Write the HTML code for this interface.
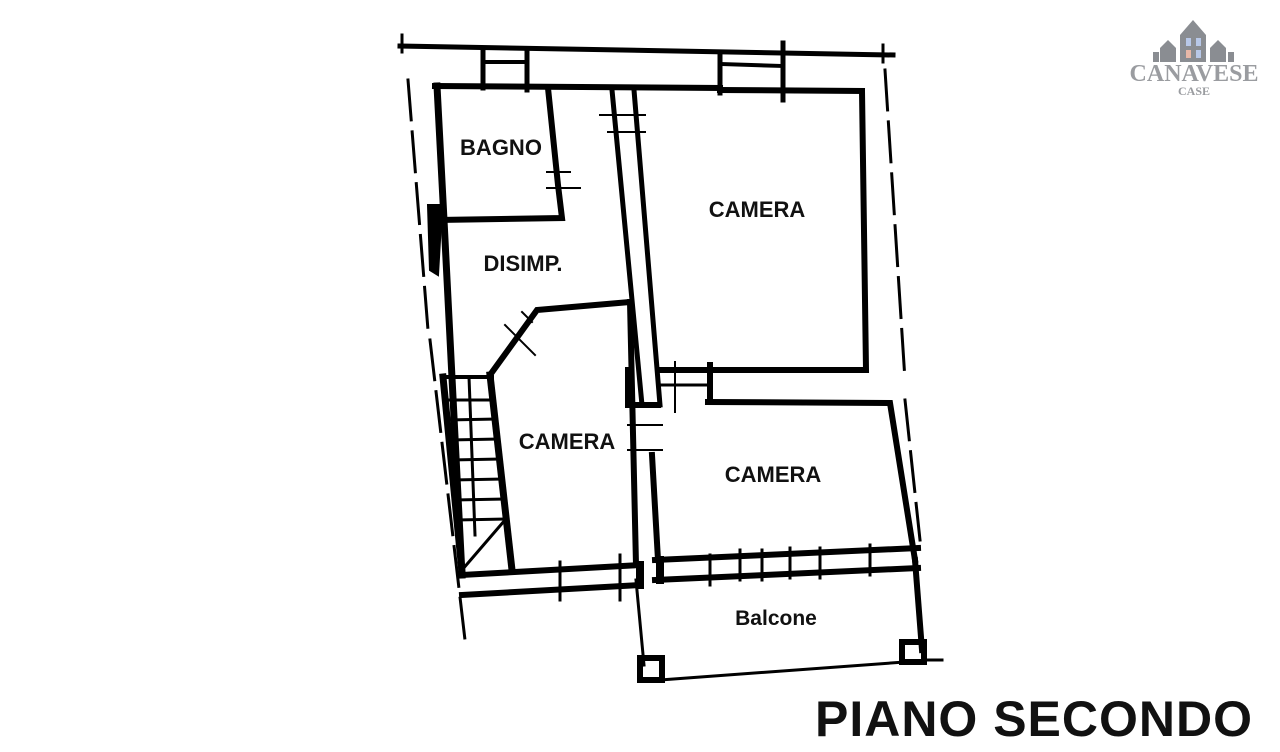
<!DOCTYPE html>
<html><head><meta charset="utf-8"><style>
html,body{margin:0;padding:0;background:#fff;}
svg{display:block}
text{font-family:"Liberation Sans",Arial,sans-serif;font-weight:bold;fill:#111}
</style></head><body>
<svg width="1280" height="752" viewBox="0 0 1280 752" xmlns="http://www.w3.org/2000/svg">
<g stroke="#000" fill="none" stroke-linecap="square">
<!-- outer top -->
<polyline points="400,46 893,55" stroke-width="5"/>
<line x1="402" y1="35" x2="402" y2="52" stroke-width="3"/>
<line x1="883" y1="45" x2="883" y2="62" stroke-width="3"/>
<!-- inner top -->
<polyline points="435,86 720,88" stroke-width="6"/>
<polyline points="720,90 862,91" stroke-width="6"/>
<line x1="483" y1="50" x2="483" y2="88" stroke-width="5"/>
<line x1="527" y1="50" x2="527" y2="90" stroke-width="5"/>
<line x1="720" y1="52" x2="720" y2="93" stroke-width="5"/>
<line x1="783" y1="43" x2="783" y2="100" stroke-width="5"/>
<line x1="483" y1="62" x2="527" y2="62" stroke-width="4"/>
<line x1="720" y1="64" x2="783" y2="66" stroke-width="4"/>
<!-- left wall -->
<polyline points="437,86 444,220 462,575" stroke-width="7"/>
<path d="M428,205 L442,205 L438,275 L430,270 Z" fill="#000" stroke-width="2"/>
<!-- bagno -->
<polyline points="548,88 558,185 562,218 440,220" stroke-width="6"/>
<line x1="547" y1="172" x2="570" y2="172" stroke-width="2"/>
<line x1="547" y1="188" x2="580" y2="188" stroke-width="2"/>
<!-- corridor -->
<line x1="612" y1="90" x2="642" y2="405" stroke-width="5"/>
<line x1="634" y1="90" x2="660" y2="405" stroke-width="5"/>
<line x1="600" y1="115" x2="645" y2="115" stroke-width="2"/>
<line x1="608" y1="132" x2="645" y2="132" stroke-width="2"/>
<!-- camera top right -->
<polyline points="862,91 866,370 660,370" stroke-width="6"/>
<line x1="710" y1="365" x2="710" y2="402" stroke-width="6"/>
<line x1="660" y1="385" x2="708" y2="385" stroke-width="3"/>
<line x1="675" y1="362" x2="675" y2="412" stroke-width="2"/>
<polyline points="708,402 890,403 915,560" stroke-width="6"/>
<!-- disimp bottom -->
<polyline points="630,302 537,310 490,375" stroke-width="6"/>
<line x1="505" y1="325" x2="535" y2="355" stroke-width="2"/>
<line x1="522" y1="312" x2="532" y2="322" stroke-width="2"/>
<!-- stair -->
<polyline points="443,377 462,572" stroke-width="7"/>
<polyline points="490,375 512,570" stroke-width="7"/>
<line x1="443" y1="377" x2="492" y2="377" stroke-width="4"/>
<g stroke-width="3">
<line x1="446" y1="400" x2="494" y2="400"/><line x1="448" y1="420" x2="496" y2="419"/>
<line x1="450" y1="440" x2="498" y2="439"/><line x1="451" y1="460" x2="500" y2="459"/>
<line x1="453" y1="480" x2="502" y2="479"/><line x1="455" y1="500" x2="504" y2="499"/>
<line x1="457" y1="520" x2="505" y2="519"/><line x1="469" y1="377" x2="475" y2="535"/>
<line x1="462" y1="570" x2="505" y2="520"/>
</g>
<!-- camera left right wall -->
<polyline points="630,302 636,565" stroke-width="6"/>
<polyline points="628,370 628,405 658,405" stroke-width="6"/>
<line x1="628" y1="425" x2="662" y2="425" stroke-width="2"/>
<line x1="628" y1="450" x2="662" y2="450" stroke-width="2"/>
<line x1="652" y1="455" x2="658" y2="560" stroke-width="6"/>
<!-- bottom walls -->
<polyline points="462,575 640,565" stroke-width="6"/>
<polyline points="462,595 640,585" stroke-width="6"/>
<polyline points="655,560 918,548" stroke-width="6"/>
<polyline points="655,580 918,568" stroke-width="6"/>
<line x1="640" y1="565" x2="640" y2="585" stroke-width="8"/>
<line x1="660" y1="560" x2="660" y2="580" stroke-width="8"/>
<g stroke-width="3">
<line x1="560" y1="562" x2="560" y2="600"/><line x1="620" y1="555" x2="620" y2="600"/>
<line x1="710" y1="555" x2="710" y2="585"/><line x1="740" y1="550" x2="740" y2="580"/>
<line x1="762" y1="550" x2="762" y2="580"/><line x1="790" y1="548" x2="790" y2="578"/>
<line x1="820" y1="548" x2="820" y2="578"/><line x1="870" y1="545" x2="870" y2="575"/>
</g>
<!-- balcony -->
<line x1="636" y1="580" x2="644" y2="665" stroke-width="3"/>
<line x1="660" y1="680" x2="905" y2="662" stroke-width="3"/>
<line x1="915" y1="560" x2="922" y2="650" stroke-width="6"/>
<rect x="640" y="658" width="22" height="22" stroke-width="6"/>
<rect x="902" y="642" width="22" height="20" stroke-width="6"/>
<line x1="924" y1="660" x2="942" y2="660" stroke-width="3"/>
<!-- outer dashed -->
<g stroke-width="3" stroke-dasharray="40,12">
<line x1="408" y1="80" x2="428" y2="330"/>
<line x1="430" y1="340" x2="465" y2="640"/>
<line x1="885" y1="70" x2="905" y2="380"/>
<line x1="905" y1="400" x2="920" y2="540"/>
</g>
</g>
<g font-size="22">
<text x="501" y="155" text-anchor="middle">BAGNO</text>
<text x="757" y="217" text-anchor="middle">CAMERA</text>
<text x="523" y="271" text-anchor="middle">DISIMP.</text>
<text x="567" y="449" text-anchor="middle">CAMERA</text>
<text x="773" y="482" text-anchor="middle">CAMERA</text>
<text x="776" y="625" text-anchor="middle" font-size="21">Balcone</text>
</g>
<text x="1034" y="736" text-anchor="middle" font-size="50" style="letter-spacing:1px">PIANO SECONDO</text>
<!-- logo -->
<g fill="#8a8d92">
<polygon points="1180,35 1193,20 1206,35 1206,62 1180,62"/>
<polygon points="1160,48 1168,40 1176,48 1176,62 1160,62"/>
<polygon points="1210,48 1218,40 1226,48 1226,62 1210,62"/>
<rect x="1153" y="52" width="6" height="10"/><rect x="1228" y="52" width="6" height="10"/>
</g>
<g fill="#b8c8e8"><rect x="1186" y="38" width="5" height="8"/><rect x="1196" y="38" width="5" height="8"/><rect x="1186" y="50" width="5" height="8" fill="#e8b8a8"/><rect x="1196" y="50" width="5" height="8"/></g>
<text x="1194" y="81" text-anchor="middle" font-family="Liberation Serif" font-size="24" style="fill:#9a9ca0;font-family:'Liberation Serif',serif">CANAVESE</text>
<text x="1194" y="95" text-anchor="middle" font-size="12" style="fill:#9a9ca0;font-family:'Liberation Serif',serif">CASE</text>
</svg>
</body></html>
